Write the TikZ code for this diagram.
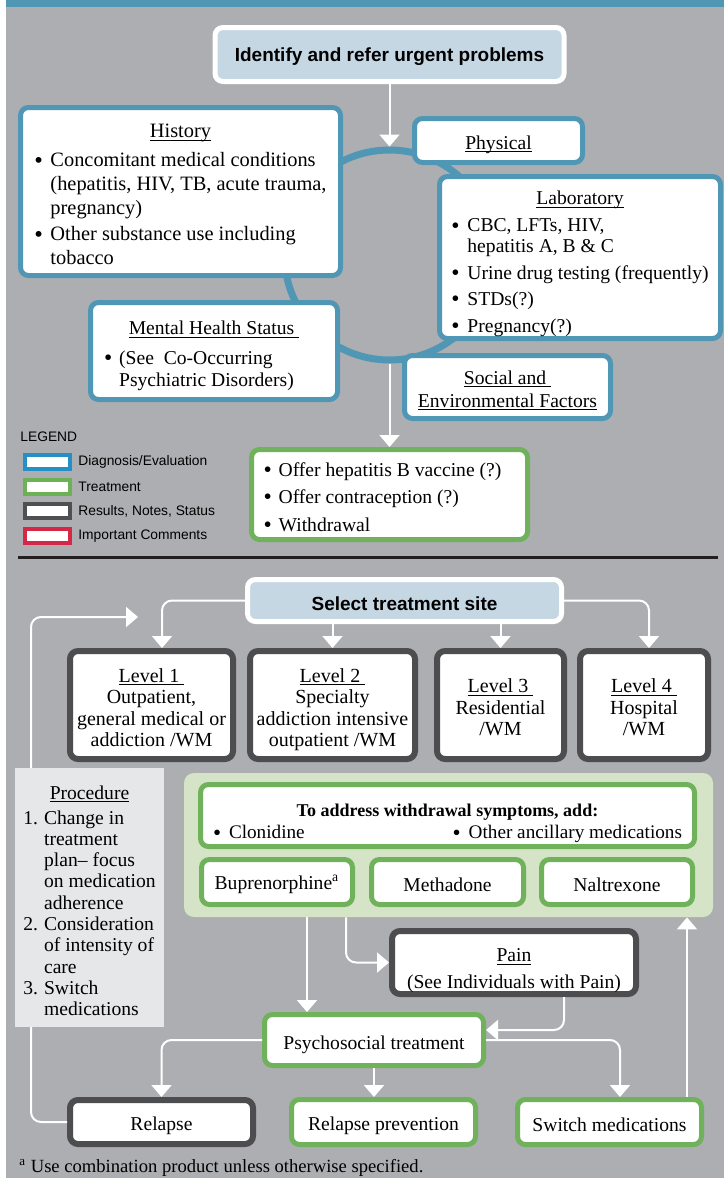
\documentclass[tikz,border=0pt]{standalone}
\usepackage{fontspec}
\setmainfont{Liberation Serif}
\setsansfont{Liberation Sans}
\usetikzlibrary{arrows.meta}

\definecolor{bggrey}{RGB}{173,174,177}
\definecolor{diagblue}{RGB}{80,151,181}
\definecolor{treatgreen}{RGB}{112,178,92}
\definecolor{notegrey}{RGB}{77,77,79}
\definecolor{headfill}{RGB}{198,215,228}
\definecolor{panelfill}{RGB}{213,228,199}
\definecolor{procfill}{RGB}{230,231,232}
\definecolor{legblue}{RGB}{38,143,196}
\definecolor{leggreen}{RGB}{108,178,84}
\definecolor{leggrey}{RGB}{80,80,82}
\definecolor{legred}{RGB}{213,39,72}
\definecolor{rulecol}{RGB}{35,31,32}

% underline that ignores descenders
\newcommand{\undl}[1]{\leavevmode\setbox0\hbox{#1}\rlap{\rule[-1.6pt]{\wd0}{0.5pt}}\box0}
\newcommand{\bul}[1][8pt]{\makebox[#1][l]{\raisebox{-0.6pt}{\scalebox{1.2}{\textbullet}}}}
% drop the text a little inside its box, keeping the box size
\newcommand{\lowr}[2][2.5pt]{\raisebox{-#1}[\height][\depth]{#2}}
\newcommand{\lines}[2][2.5pt]{\lowr[#1]{\begin{tabular}{@{}c@{}}#2\end{tabular}}}

\begin{document}
\begin{tikzpicture}[
	x=0.5pt, y=-0.5pt,
	box/.style={draw, fill=white, rounded corners=4pt, line width=2.5pt, inner sep=0pt, align=center,
		font=\fontsize{9.8}{11}\selectfont},
	diag/.style={box, draw=diagblue},
	treat/.style={box, draw=treatgreen},
	result/.style={box, draw=notegrey, line width=3pt},
	head/.style={box, draw=white, fill=headfill, font=\sffamily\bfseries\fontsize{9.5}{11}\selectfont},
	level/.style={result, minimum width=#1, minimum height=54pt, font=\fontsize{10}{10.75}\selectfont},
	flow/.style={draw=white, line width=1pt, rounded corners=5pt, -{Triangle[width=10pt,length=6pt]}},
	swatch/.style={draw=#1, fill=white, line width=2pt, minimum width=22.5pt, minimum height=7pt, inner sep=0pt},
	legtext/.style={anchor=west, inner sep=0pt, font=\sffamily\fontsize{6.9}{8}\selectfont}]

	\useasboundingbox (0,0) rectangle (724,1178);
	\fill[white] (0,0) rectangle (724,1178);
	\fill[bggrey] (6,0) rectangle (724,1178);
	\fill[diagblue] (6,0) rectangle (724,7);

	% evaluation ring
	\node[circle, draw=diagblue, line width=3.5pt, minimum size=105pt, inner sep=0pt] (cycle) at (389.5,255) {};

	% evaluation boxes
	\node[head, minimum width=174.5pt, minimum height=27pt] (ident) at (389.5,54.5) {\lowr[1.2pt]{Identify and refer urgent problems}};
	\node[diag, minimum width=160pt, minimum height=84pt, font=\fontsize{10.2}{12}\selectfont] (hist) at (180.5,191.5) {\lowr{%
		\begin{tabular}{@{}l@{}l@{}}
		\multicolumn{2}{@{}c@{}}{\undl{History}}\\[2.5pt]
		\bul & Concomitant medical conditions\\
		& (hepatitis, HIV, TB, acute trauma,\\
		& pregnancy)\\[1pt]
		\bul & Other substance use including\\
		& tobacco
		\end{tabular}}};
	\node[diag, minimum width=123.5pt, minimum height=48.5pt, font=\fontsize{9.8}{11}\selectfont] (mental) at (214,351) {\lowr{%
		\begin{tabular}{@{}l@{}l@{\hspace{15pt}}}
		\multicolumn{2}{@{}c@{}}{\undl{Mental Health Status~}}\\[4pt]
		\bul[7.5pt] & (See\ \ Co-Occurring\\
		& Psychiatric Disorders)
		\end{tabular}}};
	\node[diag, minimum width=84pt, minimum height=22pt] (phys) at (498.5,140.5) {\lowr[2pt]{\undl{Physical}}};
	\node[diag, minimum width=140.5pt, minimum height=81pt, font=\fontsize{9.8}{10.2}\selectfont] (lab) at (580,257.5) {\lowr[3.5pt]{%
		\begin{tabular}{@{}l@{}l@{}}
		\multicolumn{2}{@{}c@{}}{\undl{Laboratory}}\\[3.3pt]
		\bul & CBC, LFTs, HIV,\\
		& hepatitis A, B \& C\\[3.3pt]
		\bul & Urine drug testing (frequently)\\[3pt]
		\bul & STDs(?)\\[3pt]
		\bul & Pregnancy(?)
		\end{tabular}}};
	\node[diag, minimum width=103pt, minimum height=31.5pt, font=\fontsize{9.8}{11.5}\selectfont] (social) at (507.5,387) {\lines[2pt]{\undl{Social and~}\\\undl{Environmental Factors}}};

	% first treatment step
	\node[treat, minimum width=138pt, minimum height=45pt, font=\fontsize{9.8}{10}\selectfont] (offer) at (389.5,494.5) {\lowr{%
		\begin{tabular}{@{}l@{}l@{\hspace{7pt}}}
		\bul[7.5pt] & Offer hepatitis B vaccine (?)\\[3.75pt]
		\bul[7.5pt] & Offer contraception (?)\\[3.75pt]
		\bul[7.5pt] & Withdrawal
		\end{tabular}}};

	\draw[flow] (ident.south) -- (cycle.north);
	\draw[flow] (cycle.south) -- (offer.north);

	% legend
	\node[legtext] (legend) at (20,437) {LEGEND};
	\foreach \y/\col/\txt [count=\i] in {462/legblue/{Diagnosis/Evaluation}, 487/leggreen/Treatment,
			511/leggrey/{Results, Notes, Status}, 536/legred/{Important Comments}} {
		\node[swatch=\col] (sw\i) at (47.5,\y) {};
		\node[legtext] (lt\i) at (78,\y) {\txt};
	}

	\draw[rulecol, line width=1.5pt] (18,557) -- (718,557);

	% treatment site
	\node[head, minimum width=157pt, minimum height=21pt] (select) at (404.5,600.5) {\lowr[1.5pt]{Select treatment site}};
	\node[level=81.5pt] (lvl1) at (151.5,705) {\lines{\undl{Level 1~}\\Outpatient,\\general medical or\\addiction /WM}};
	\node[level=82.5pt] (lvl2) at (332.5,705) {\lines{\undl{Level 2~}\\Specialty\\addiction intensive\\outpatient /WM}};
	\node[level=63.5pt] (lvl3) at (500.5,705) {\lines{\undl{Level 3~}\\Residential\\/WM}};
	\node[level=64pt] (lvl4) at (644,705) {\lines{\undl{Level 4~}\\Hospital\\/WM}};

	\draw[flow] (select.west) -| ([xshift=5.25pt]lvl1.north);
	\draw[flow] (lvl2.north |- select.south) -- (lvl2.north);
	\draw[flow] (lvl3.north |- select.south) -- (lvl3.north);
	\draw[flow] (select.east) -| ([xshift=2.5pt]lvl4.north);

	% medications
	\node[fill=panelfill, rounded corners=5pt, minimum width=264.5pt, minimum height=72pt, inner sep=0pt] (panel) at (448.5,845) {};
	\node[treat, minimum width=247pt, minimum height=31pt, font=\fontsize{9.6}{11}\selectfont] (wd) at (447.5,815.5) {\lowr[4pt]{%
		\begin{tabular}{@{}c@{}}
		{\fontsize{9}{11}\selectfont\bfseries To address withdrawal symptoms, add:}\\
		\makebox[234.5pt]{\bul Clonidine\hfill\bul Other ancillary medications}
		\end{tabular}}};
	\node[treat, minimum width=75.5pt, minimum height=22.5pt] (bup) at (277,882) {\lowr[1.2pt]{Buprenorphine\textsuperscript{a}}};
	\node[treat, minimum width=76pt, minimum height=22.5pt] (meth) at (447.5,882) {\lowr[1.2pt]{Methadone}};
	\node[treat, minimum width=75.5pt, minimum height=22.5pt] (nal) at (617,882) {\lowr[1.2pt]{Naltrexone}};

	% follow-up
	\node[result, minimum width=122pt, minimum height=31.5pt, font=\fontsize{9.8}{13.5}\selectfont] (pain) at (514,962.5) {\lines[3.5pt]{\undl{Pain}\\(See Individuals with Pain)}};
	\node[treat, minimum width=109.5pt, minimum height=25.5pt] (psych) at (374,1040) {\lowr{Psychosocial treatment}};
	\node[result, minimum width=91.5pt, minimum height=22pt] (relapse) at (161.5,1122) {\lowr[2pt]{Relapse}};
	\node[treat, minimum width=92pt, minimum height=22.5pt] (relprev) at (383.5,1122) {\lowr[2pt]{Relapse prevention}};
	\node[treat, minimum width=92pt, minimum height=22.5pt] (switch) at (609.5,1122) {\lowr[1.5pt]{Switch medications}};

	\draw[flow] ([xshift=-33.5pt]psych.north |- panel.south) -- ([xshift=-33.5pt]psych.north);
	\draw[flow] ([xshift=-21.5pt]pain.west |- panel.south) |- (pain.west);
	\draw[flow] ([xshift=25pt]pain.south) |- ([yshift=5pt]psych.east);
	\draw[flow] ([xshift=38.75pt]switch.north) -- ([xshift=38.75pt]switch.north |- panel.south);
	\draw[flow] (psych.west) -| (relapse.north);
	\draw[flow] (psych.south) -- (psych.south |- relprev.north);
	\draw[flow] (psych.east) -| ([xshift=5.25pt]switch.north);

	% loop back after relapse
	\coordinate (loopturn) at (31,617);
	\coordinate (loopend) at (138,617);
	\draw[flow] (relapse.west) -| (loopturn) -- (loopend);

	\node[fill=procfill, minimum width=74.5pt, minimum height=129.5pt, inner sep=0pt, font=\fontsize{9.8}{10.65}\selectfont] (proc) at (89.5,897.5) {\lowr[2.8pt]{%
		\begin{tabular}{@{}r@{\hspace{3pt}}l@{}}
		\multicolumn{2}{@{}c@{}}{\undl{Procedure}}\\[1.85pt]
		1. & Change in\\
		& treatment\\
		& plan-- focus\\
		& on medication\\
		& adherence\\
		2. & Consideration\\
		& of intensity of\\
		& care\\
		3. & Switch\\
		& medications
		\end{tabular}}};

	% footnote
	\node[anchor=west, inner sep=0pt, font=\fontsize{9.3}{11}\selectfont] (note) at (19,1168) {\textsuperscript{a} Use combination product unless otherwise specified.};
\end{tikzpicture}
\end{document}
